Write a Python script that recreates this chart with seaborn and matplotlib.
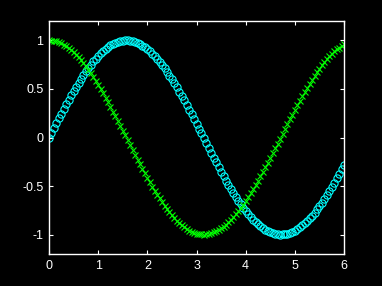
import matplotlib
matplotlib.use("Agg")
import matplotlib.pyplot as plt
import seaborn as sns
import pandas as pd

x_vals = [0.00, 0.05, 0.10, 0.15, 0.20, 0.25, 0.30, 0.35, 0.40, 0.45,
          0.50, 0.55, 0.60, 0.65, 0.70, 0.75, 0.80, 0.85, 0.90, 0.95,
          1.00, 1.05, 1.10, 1.15, 1.20, 1.25, 1.30, 1.35, 1.40, 1.45,
          1.50, 1.55, 1.60, 1.65, 1.70, 1.75, 1.80, 1.85, 1.90, 1.95,
          2.00, 2.05, 2.10, 2.15, 2.20, 2.25, 2.30, 2.35, 2.40, 2.45,
          2.50, 2.55, 2.60, 2.65, 2.70, 2.75, 2.80, 2.85, 2.90, 2.95,
          3.00, 3.05, 3.10, 3.15, 3.20, 3.25, 3.30, 3.35, 3.40, 3.45,
          3.50, 3.55, 3.60, 3.65, 3.70, 3.75, 3.80, 3.85, 3.90, 3.95,
          4.00, 4.05, 4.10, 4.15, 4.20, 4.25, 4.30, 4.35, 4.40, 4.45,
          4.50, 4.55, 4.60, 4.65, 4.70, 4.75, 4.80, 4.85, 4.90, 4.95,
          5.00, 5.05, 5.10, 5.15, 5.20, 5.25, 5.30, 5.35, 5.40, 5.45,
          5.50, 5.55, 5.60, 5.65, 5.70, 5.75, 5.80, 5.85, 5.90, 5.95,
          6.00]

sin_vals = [0.000, 0.050, 0.100, 0.149, 0.199, 0.247, 0.296, 0.343, 0.389, 0.435,
            0.479, 0.523, 0.565, 0.605, 0.644, 0.682, 0.717, 0.751, 0.783, 0.813,
            0.841, 0.867, 0.891, 0.913, 0.932, 0.949, 0.964, 0.976, 0.985, 0.993,
            0.997, 1.000, 1.000, 0.997, 0.992, 0.984, 0.974, 0.961, 0.946, 0.929,
            0.909, 0.887, 0.863, 0.837, 0.808, 0.778, 0.746, 0.711, 0.675, 0.638,
            0.598, 0.558, 0.516, 0.472, 0.427, 0.382, 0.335, 0.287, 0.239, 0.190,
            0.141, 0.091, 0.042, -0.008, -0.058, -0.108, -0.158, -0.207, -0.256, -0.304,
            -0.351, -0.397, -0.443, -0.487, -0.530, -0.572, -0.612, -0.651, -0.688, -0.724,
            -0.757, -0.788, -0.818, -0.845, -0.872, -0.895, -0.916, -0.935, -0.952, -0.966,
            -0.978, -0.987, -0.994, -0.998, -1.000, -0.999, -0.996, -0.991, -0.982, -0.972,
            -0.959, -0.944, -0.926, -0.906, -0.883, -0.859, -0.832, -0.804, -0.773, -0.740,
            -0.706, -0.670, -0.631, -0.592, -0.551, -0.508, -0.465, -0.420, -0.374, -0.327,
            -0.279]

cos_vals = [1.000, 0.999, 0.995, 0.989, 0.980, 0.969, 0.955, 0.939, 0.921, 0.900,
            0.878, 0.853, 0.825, 0.796, 0.765, 0.732, 0.697, 0.660, 0.622, 0.582,
            0.540, 0.498, 0.454, 0.409, 0.362, 0.315, 0.267, 0.219, 0.170, 0.121,
            0.071, 0.021, -0.029, -0.079, -0.129, -0.178, -0.227, -0.276, -0.323, -0.370,
            -0.416, -0.461, -0.505, -0.547, -0.589, -0.628, -0.666, -0.703, -0.737, -0.770,
            -0.801, -0.830, -0.857, -0.882, -0.904, -0.924, -0.942, -0.958, -0.971, -0.982,
            -0.990, -0.996, -0.999, -1.000, -0.998, -0.994, -0.987, -0.978, -0.967, -0.953,
            -0.936, -0.918, -0.897, -0.874, -0.848, -0.821, -0.791, -0.760, -0.726, -0.691,
            -0.654, -0.615, -0.575, -0.534, -0.490, -0.446, -0.401, -0.355, -0.307, -0.259,
            -0.211, -0.162, -0.112, -0.062, -0.012, 0.038, 0.087, 0.137, 0.187, 0.235,
            0.284, 0.331, 0.378, 0.424, 0.469, 0.512, 0.554, 0.595, 0.635, 0.672,
            0.709, 0.743, 0.776, 0.806, 0.835, 0.861, 0.886, 0.908, 0.927, 0.945,
            0.960]

x_ticks = [0, 1, 2, 3, 4, 5, 6]
y_ticks = [-1, -0.5, 0, 0.5, 1]
y_tick_labels = ["-1", "-0.5", "0", "0.5", "1"]

sns.set_style("dark")
plt.rcParams['font.family'] = ['Liberation Sans', 'DejaVu Sans']

fig = plt.figure(figsize=(3.82, 2.86), dpi=100, facecolor="black")
ax = fig.add_axes([49/382, 1 - 254/286, (344 - 49)/382, (254 - 21)/286])
ax.set_facecolor("black")

df = pd.DataFrame({"x": x_vals, "sin": sin_vals, "cos": cos_vals})

sns.lineplot(data=df, x="x", y="sin", ax=ax, linestyle="", marker="o",
             markersize=5.2, markerfacecolor="none", markeredgecolor="#00FFFF",
             markeredgewidth=0.8, color="#00FFFF")
sns.lineplot(data=df, x="x", y="cos", ax=ax, linestyle="", marker="x",
             markersize=4.5, markeredgecolor="#00FF00", markeredgewidth=0.8,
             color="#00FF00")

ax.set_xlim(0, 6)
ax.set_ylim(-1.2, 1.2)
ax.set_xticks(x_ticks)
ax.set_xticklabels([str(t) for t in x_ticks])
ax.set_yticks(y_ticks)
ax.set_yticklabels(y_tick_labels)
ax.set_xlabel("")
ax.set_ylabel("")
ax.grid(False)

for s in ax.spines.values():
    s.set_visible(True)
    s.set_color("white")
    s.set_linewidth(1.0)

ax.tick_params(axis="both", which="both", direction="in", colors="white",
               labelcolor="white", length=3, width=0.8, labelsize=9,
               top=True, right=True, bottom=True, left=True, pad=4)

fig.savefig("out.png", dpi=100, facecolor="black")
